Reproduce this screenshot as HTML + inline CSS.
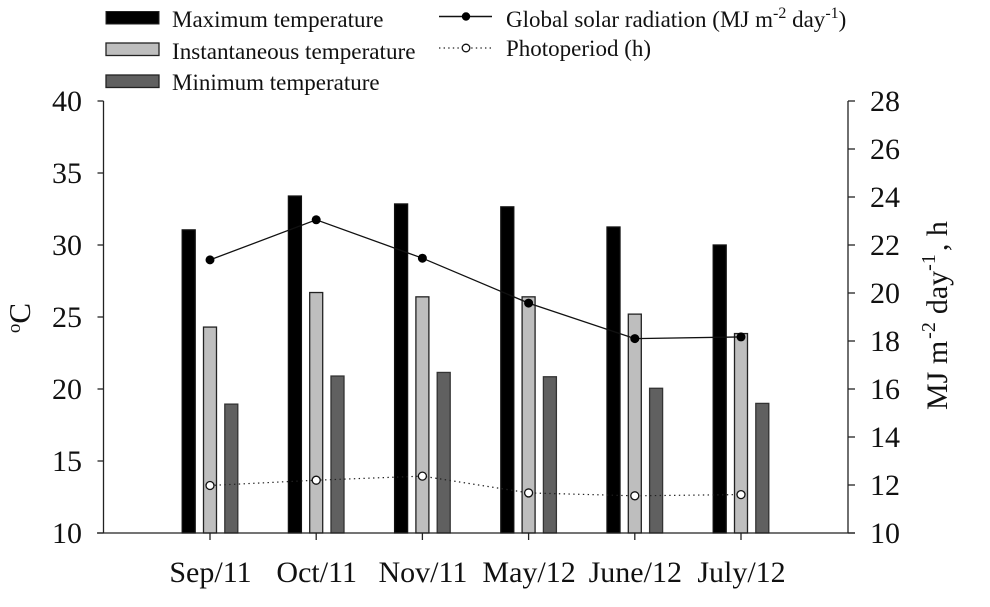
<!DOCTYPE html>
<html>
<head>
<meta charset="utf-8">
<title>Temperature, solar radiation and photoperiod chart</title>
<style>
html,body{margin:0;padding:0;background:#fff;width:990px;height:607px;overflow:hidden}
svg{display:block}
text{font-family:"Liberation Serif",serif;fill:#111}
</style>
</head>
<body>
<svg id="chart" width="990" height="607" viewBox="0 0 990 607" xmlns="http://www.w3.org/2000/svg">
  <rect x="0" y="0" width="990" height="607" fill="#fff"/>
  <g>
    <g>
      <rect x="106" y="11.5" width="53" height="12.5" fill="#000" stroke="#222" stroke-width="1"/>
      <text x="172" y="27" font-size="23">Maximum temperature</text>
    </g>
    <g>
      <rect x="106" y="43" width="53" height="12.5" fill="#bebebe" stroke="#222" stroke-width="1.3"/>
      <text x="172" y="59" font-size="23.15">Instantaneous temperature</text>
    </g>
    <g>
      <rect x="106" y="75" width="53" height="12.5" fill="#606060" stroke="#222" stroke-width="1.3"/>
      <text x="172" y="90" font-size="23">Minimum temperature</text>
    </g>
    <g>
      <line x1="439" y1="16.5" x2="492" y2="16.5" stroke="#111" stroke-width="1.4"/>
      <circle cx="466" cy="16.5" r="4.2" fill="#000"/>
      <text x="506" y="27" font-size="23">Global solar radiation (MJ m<tspan dy="-9" font-size="16">-2</tspan><tspan dy="9"> day</tspan><tspan dy="-9" font-size="16">-1</tspan><tspan dy="9">)</tspan></text>
    </g>
    <g>
      <line x1="439" y1="48" x2="492" y2="48" stroke="#222" stroke-width="1.2" stroke-dasharray="1.4 3.2"/>
      <circle cx="466" cy="48" r="3.8" fill="#fff" stroke="#111" stroke-width="1.3"/>
      <text x="506" y="56" font-size="23">Photoperiod (h)</text>
    </g>
  </g>
  <text transform="translate(30,318) rotate(-90)" text-anchor="middle" font-size="31"><tspan dy="-10" font-size="19">o</tspan><tspan dy="10">C</tspan></text>
  <text transform="translate(947,410) rotate(-90)" font-size="30">MJ m<tspan dx="2" dy="-12" font-size="20">-2</tspan><tspan dx="8" dy="12">day</tspan><tspan dx="0" dy="-12" font-size="20">-1</tspan><tspan dx="3" dy="12">, h</tspan></text>
  <g id="bars"></g>
  <g id="lines"></g>
  <g id="axes"></g>
</svg>
<script>
var categories = ["Sep/11", "Oct/11", "Nov/11", "May/12", "June/12", "July/12"];
var maxTemp = [31.05, 33.4, 32.85, 32.65, 31.25, 30.0];
var instTemp = [24.3, 26.7, 26.4, 26.4, 25.2, 23.85];
var minTemp = [18.95, 20.9, 21.15, 20.85, 20.05, 19.0];
var solarRadiation = [21.38, 23.05, 21.45, 19.58, 18.1, 18.17];
var photoperiod = [11.98, 12.2, 12.37, 11.67, 11.55, 11.6];
var leftTicks = [10, 15, 20, 25, 30, 35, 40];
var rightTicks = [10, 12, 14, 16, 18, 20, 22, 24, 26, 28];

var NS = "http://www.w3.org/2000/svg";
function mk(tag, attrs, parent) {
  var el = document.createElementNS(NS, tag);
  for (var k in attrs) el.setAttribute(k, attrs[k]);
  parent.appendChild(el);
  return el;
}
function xPos(i) { return 210 + 106.2 * i; }
function yLeft(v) { return 533 - (v - 10) * (432 / 30); }
function yRight(v) { return 533 - (v - 10) * (432 / 18); }

var barsG = document.getElementById("bars");
var linesG = document.getElementById("lines");
var axesG = document.getElementById("axes");

function drawBars(values, offset, fill, strokeColor, seriesName) {
  values.forEach(function (v, i) {
    var y = yLeft(v);
    var bar = mk("rect", { x: xPos(i) + offset - 6.5, y: y, width: 13, height: 533 - y, fill: fill, stroke: strokeColor, "stroke-width": 1.3 }, barsG);
    
    
  });
}
drawBars(maxTemp, -21.3, "#000", "#111", "maximum-temperature");
drawBars(instTemp, 0, "#bebebe", "#222", "instantaneous-temperature");
drawBars(minTemp, 21.3, "#606060", "#333", "minimum-temperature");

function pts(values) {
  return values.map(function (v, i) { return xPos(i) + "," + yRight(v); }).join(" ");
}
var solarLine = mk("polyline", { points: pts(solarRadiation), fill: "none", stroke: "#111", "stroke-width": 1.3 }, linesG);


var photoLine = mk("polyline", { points: pts(photoperiod), fill: "none", stroke: "#222", "stroke-width": 1.2, "stroke-dasharray": "1.4 3.4" }, linesG);


solarRadiation.forEach(function (v, i) {
  var p = mk("circle", { cx: xPos(i), cy: yRight(v), r: 4.5, fill: "#000" }, linesG);
  
  
});
photoperiod.forEach(function (v, i) {
  var p = mk("circle", { cx: xPos(i), cy: yRight(v), r: 4, fill: "#fff", stroke: "#111", "stroke-width": 1.3 }, linesG);
  
  
});

var axisStyle = { stroke: "#222", "stroke-width": 1.3 };
function line(x1, y1, x2, y2, parent) {
  return mk("line", { x1: x1, y1: y1, x2: x2, y2: y2, stroke: axisStyle.stroke, "stroke-width": axisStyle["stroke-width"] }, parent);
}
var leftAxis = line(103.5, 101, 103.5, 533, axesG);


var rightAxis = line(848, 101, 848, 533, axesG);


var bottomAxis = line(97, 533, 855, 533, axesG);



leftTicks.forEach(function (v) {
  var y = yLeft(v);
  var t = line(97.5, y, 103.5, y, axesG);
  
  
  var lab = mk("text", { x: 82, y: y + 10, "text-anchor": "end", "font-size": 30 }, axesG);
  lab.textContent = v;
  
  
});
rightTicks.forEach(function (v) {
  var y = yRight(v);
  var t = line(848, y, 855, y, axesG);
  
  
  var lab = mk("text", { x: 870, y: y + 10, "text-anchor": "start", "font-size": 30 }, axesG);
  lab.textContent = v;
  
  
});
categories.forEach(function (c, i) {
  var t = line(xPos(i), 533, xPos(i), 540, axesG);
  
  
  var lab = mk("text", { x: xPos(i) + 0.5, y: 582, "text-anchor": "middle", "font-size": 30 }, axesG);
  lab.textContent = c;
  
  
});
</script>
</body>
</html>
